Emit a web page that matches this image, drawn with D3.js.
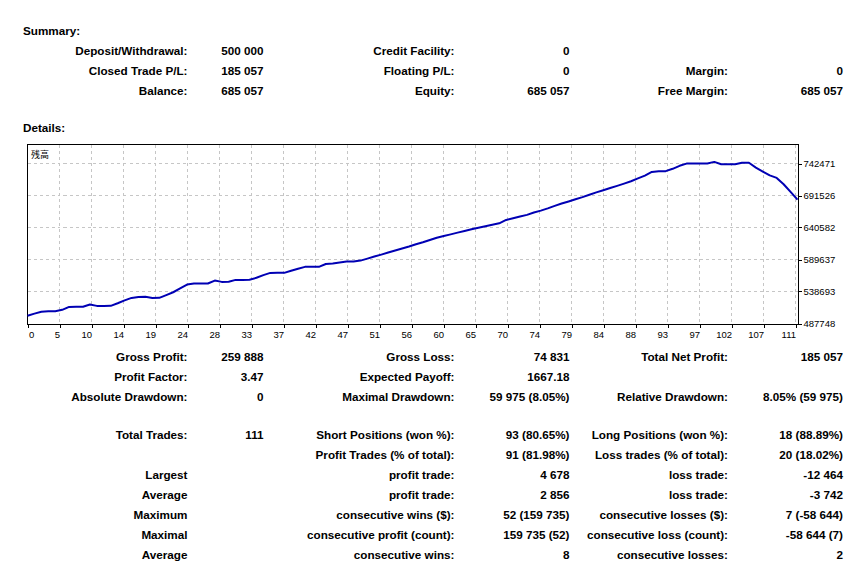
<!DOCTYPE html>
<html>
<head>
<meta charset="utf-8">
<script src="https://cdn.jsdelivr.net/npm/d3@7"></script>
<style>
  html, body { margin: 0; padding: 0; background: #fff; }
  svg { display: block; }
  .t { font-family: "Liberation Sans", Arial, sans-serif; font-weight: bold; font-size: 11.7px; fill: #000; }
  .ax text { font-family: "Liberation Sans", Arial, sans-serif; font-size: 9.5px; fill: #000; }
</style>
</head>
<body>
<svg id="c" width="862" height="587"></svg>
<script>
// ---------- DATA ----------
const balance = [
  500000, 503500, 506500, 507300, 507400, 509500, 514200, 514300, 514300, 518000,
  515800, 515800, 515900, 520000, 524500, 528500, 530100, 530200, 528500, 528600,
  533000, 537500, 543500, 549800, 551300, 551400, 551400, 556100, 554000, 554100,
  557200, 557200, 557300, 560500, 564800, 568300, 568400, 568400, 571800, 575000,
  577900, 578000, 578000, 582500, 583300, 584800, 586300, 586400, 587900, 591000,
  594300, 597400, 600700, 603900, 607100, 610300, 613900, 617000, 620700, 624200,
  627000, 629600, 632400, 635100, 637800, 640300, 642600, 645000, 647300, 652600,
  655400, 658200, 660700, 664500, 667500, 671000, 675000, 678700, 682000, 685500,
  689000, 692800, 696500, 700000, 703500, 706900, 710500, 714200, 718700, 723200,
  729000, 730200, 730300, 734000, 738800, 742300, 742400, 742400, 742500, 745032,
  741300, 741300, 741400, 743600, 743701, 736000, 729500, 723500, 719500, 709500,
  697200, 685057
];
const xTickLabels = ["0","5","10","14","19","24","28","33","37","42","47","51","56","60","65","70","74","79","84","88","93","97","102","107","111"];
const yTickValues = [487748, 538693, 589637, 640582, 691526, 742471];
const seriesName = "残高";

const summaryCol1Labels = ["Deposit/Withdrawal:", "Closed Trade P/L:", "Balance:"];
const summaryCol1Values = ["500 000", "185 057", "685 057"];
const summaryCol2Labels = ["Credit Facility:", "Floating P/L:", "Equity:"];
const summaryCol2Values = ["0", "0", "685 057"];
const summaryCol3Labels = ["", "Margin:", "Free Margin:"];
const summaryCol3Values = ["", "0", "685 057"];

const detailCol1Labels = ["Gross Profit:", "Profit Factor:", "Absolute Drawdown:", "Total Trades:", "", "Largest", "Average", "Maximum", "Maximal", "Average"];
const detailCol1Values = ["259 888", "3.47", "0", "111", "", "", "", "", "", ""];
const detailCol2Labels = ["Gross Loss:", "Expected Payoff:", "Maximal Drawdown:", "Short Positions (won %):", "Profit Trades (% of total):", "profit trade:", "profit trade:", "consecutive wins ($):", "consecutive profit (count):", "consecutive wins:"];
const detailCol2Values = ["74 831", "1667.18", "59 975 (8.05%)", "93 (80.65%)", "91 (81.98%)", "4 678", "2 856", "52 (159 735)", "159 735 (52)", "8"];
const detailCol3Labels = ["Total Net Profit:", "", "Relative Drawdown:", "Long Positions (won %):", "Loss trades (% of total):", "loss trade:", "loss trade:", "consecutive losses ($):", "consecutive loss (count):", "consecutive losses:"];
const detailCol3Values = ["185 057", "", "8.05% (59 975)", "18 (88.89%)", "20 (18.02%)", "-12 464", "-3 742", "7 (-58 644)", "-58 644 (7)", "2"];

// ---------- LAYOUT ----------
const svg = d3.select("#c");
const colX = [187.5, 263.5, 454.5, 569.5, 728, 843];

function textAt(x, y, s, anchor) {
  if (!s) return;
  svg.append("text").attr("class", "t").attr("x", x).attr("y", y)
    .attr("text-anchor", anchor || "end").text(s);
}

textAt(23, 34.5, "Summary:", "start");
const sumRowsY = [54.5, 74.5, 94.5];
[[summaryCol1Labels, summaryCol1Values], [summaryCol2Labels, summaryCol2Values], [summaryCol3Labels, summaryCol3Values]]
  .forEach(([labs, vals], c) => {
    labs.forEach((l, i) => {
      textAt(colX[c * 2], sumRowsY[i], l);
      textAt(colX[c * 2 + 1], sumRowsY[i], vals[i]);
    });
  });
textAt(23, 131.5, "Details:", "start");

const detRowsY = [361, 381, 401, 439, 459, 479, 499, 519, 539, 559];
[[detailCol1Labels, detailCol1Values], [detailCol2Labels, detailCol2Values], [detailCol3Labels, detailCol3Values]]
  .forEach(([labs, vals], c) => {
    labs.forEach((l, i) => {
      textAt(colX[c * 2], detRowsY[i], l);
      textAt(colX[c * 2 + 1], detRowsY[i], vals[i]);
    });
  });

// ---------- CHART ----------
const plot = { left: 27.5, top: 144.5, right: 798.5, bottom: 324.5 };
const x = d3.scaleLinear().domain([0, balance.length - 1]).range([plot.left, 797.5]);
const y = d3.scaleLinear().domain([yTickValues[0], yTickValues[yTickValues.length - 1]]).range([323.5, 163.5]);
const xGrid = d3.scaleLinear().domain([0, xTickLabels.length - 1]).range([plot.left, plot.left + 32 * (xTickLabels.length - 1)]);

const g = svg.append("g");

// horizontal grid
g.selectAll("line.hg").data(yTickValues.slice(1)).join("line")
  .attr("x1", plot.left).attr("x2", plot.right)
  .attr("y1", d => y(d)).attr("y2", d => y(d))
  .attr("stroke", "#c6c6c6").attr("stroke-dasharray", "3,3").attr("shape-rendering", "crispEdges");
// vertical grid
g.selectAll("line.vg").data(d3.range(1, xTickLabels.length)).join("line")
  .attr("x1", d => xGrid(d)).attr("x2", d => xGrid(d))
  .attr("y1", plot.top).attr("y2", plot.bottom)
  .attr("stroke", "#c6c6c6").attr("stroke-dasharray", "3,3").attr("shape-rendering", "crispEdges");

// frame
g.append("rect").attr("x", plot.left).attr("y", plot.top)
  .attr("width", plot.right - plot.left).attr("height", plot.bottom - plot.top)
  .attr("fill", "none").attr("stroke", "#000").attr("shape-rendering", "crispEdges");

// right axis
const yAxis = d3.axisRight(y).tickValues(yTickValues).tickFormat(d3.format("d")).tickSize(3).tickPadding(2);
const ya = svg.append("g").attr("class", "ax").attr("transform", `translate(${plot.right},0)`).call(yAxis);
ya.select(".domain").remove();
ya.selectAll("line").attr("stroke", "#000").attr("shape-rendering", "crispEdges");

// bottom axis
const xAxis = d3.axisBottom(xGrid).tickValues(d3.range(xTickLabels.length))
  .tickFormat(i => xTickLabels[i]).tickSize(3).tickPadding(2);
const xa = svg.append("g").attr("class", "ax").attr("transform", `translate(0,${plot.bottom})`).call(xAxis);
xa.select(".domain").remove();
xa.selectAll("line").attr("stroke", "#000").attr("shape-rendering", "crispEdges");
xa.selectAll("text").attr("text-anchor", (d, i) => i === 0 ? "start" : "end")
  .attr("dx", (d, i) => i === 0 ? 1 : 0).attr("dy", "0.85em");

// series label
svg.append("text").attr("x", 31).attr("y", 158)
  .attr("font-family", "'Noto Sans CJK JP', sans-serif").attr("font-size", 9).attr("fill", "#000")
  .text(seriesName);

// balance line
const line = d3.line().x((d, i) => x(i)).y(d => y(d));
g.append("path").datum(balance).attr("d", line)
  .attr("fill", "none").attr("stroke", "#0000b4").attr("stroke-width", 2)
  .attr("stroke-linejoin", "round");
</script>
</body>
</html>
